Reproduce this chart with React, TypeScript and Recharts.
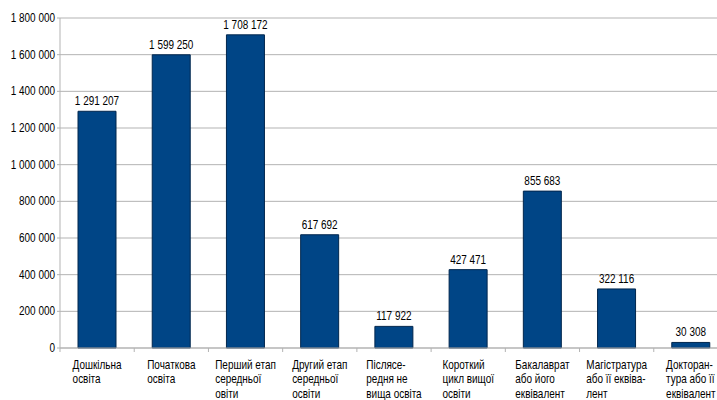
import React from 'react';
import { BarChart, Bar, XAxis, YAxis, CartesianGrid, LabelList } from 'recharts';

const categories: string[][] = [
    ['Дошкільна', 'освіта'],
    ['Початкова', 'освіта'],
    ['Перший етап', 'середньої', 'овіти'],
    ['Другий етап', 'середньої', 'освіти'],
    ['Післясе-', 'редня не', 'вища освіта'],
    ['Короткий', 'цикл вищої', 'освіти'],
    ['Бакалаврат', 'або його', 'еквівалент'],
    ['Магістратура', 'або її еквіва-', 'лент'],
    ['Докторан-', 'тура або її', 'еквівалент'],
];

const students = [1291207, 1599250, 1708172, 617692, 117922, 427471, 855683, 322116, 30308];

const yTicks = [0, 200000, 400000, 600000, 800000, 1000000, 1200000, 1400000, 1600000, 1800000];

const data = categories.map((lines, i) => ({ name: lines.join(' '), lines, value: students[i] }));

// no narrow font installed, so Liberation Sans is squeezed horizontally
const FONT = "'Liberation Sans', Arial, sans-serif";
const FONT_SIZE = 12;
const SQUEEZE = 0.83;
const CHART_W = 740;
const PLOT_LEFT = 60;
const PLOT_RIGHT = 12;
const CAT_W = (CHART_W - PLOT_LEFT - PLOT_RIGHT) / categories.length;
const GRID = '#b3b3b3';

// non-breaking spaces so recharts does not wrap the numbers
const fmt = (n: number) => String(n).replace(/\B(?=(\d{3})+(?!\d))/g, '\u00A0');

let ctx: CanvasRenderingContext2D | null = null;
function measure(text: string) {
    if (!ctx) {
        ctx = document.createElement('canvas').getContext('2d');
        if (ctx) ctx.font = `${FONT_SIZE}px ${FONT}`;
    }
    return (ctx ? ctx.measureText(text).width : text.length * 6) * SQUEEZE;
}

function NarrowText({ x, y, anchor, children }: { x: number; y: number; anchor: 'start' | 'middle' | 'end'; children: React.ReactNode }) {
    return (
        <text
            transform={`translate(${x},${y}) scale(${SQUEEZE},1)`}
            textAnchor={anchor}
            fill="#000"
            fontSize={FONT_SIZE}
            fontFamily={FONT}
        >
            {children}
        </text>
    );
}

function CategoryTick(props: any) {
    const { x, y, index } = props;
    const lines = categories[index] || [];
    const blockW = Math.max(...lines.map(measure));
    const left = x - CAT_W / 2;
    return (
        <g>
            <line x1={left} y1={y} x2={left} y2={y + 4} stroke={GRID} />
            {index === categories.length - 1 && (
                <line x1={left + CAT_W} y1={y} x2={left + CAT_W} y2={y + 4} stroke={GRID} />
            )}
            <NarrowText x={x - blockW / 2} y={y + 21} anchor="start">
                {lines.map((l, i) => (
                    <tspan key={i} x={0} dy={i === 0 ? 0 : 14.5}>{l}</tspan>
                ))}
            </NarrowText>
        </g>
    );
}

function ValueTick(props: any) {
    const { x, y, payload } = props;
    return (
        <NarrowText x={x} y={y + 4} anchor="end">
            {fmt(payload.value)}
        </NarrowText>
    );
}

function ValueLabel(props: any) {
    const { x, y, width, value } = props;
    return (
        <NarrowText x={x + width / 2} y={y - 6} anchor="middle">
            {fmt(Number(value))}
        </NarrowText>
    );
}

export default function App() {
    return (
        <div style={{ position: 'absolute', left: 0, top: 0, width: 717, height: 400, overflow: 'hidden', background: '#fff' }}>
            <BarChart
                width={CHART_W}
                height={400}
                data={data}
                margin={{ top: 18, right: PLOT_RIGHT, bottom: 0, left: 0 }}
                barCategoryGap={0}
            >
                <CartesianGrid vertical={false} stroke={GRID} />
                <XAxis
                    dataKey="name"
                    interval={0}
                    height={52}
                    tickLine={false}
                    tickSize={0}
                    tickMargin={0}
                    axisLine={{ stroke: GRID }}
                    tick={<CategoryTick />}
                />
                <YAxis
                    width={PLOT_LEFT}
                    domain={[0, 1800000]}
                    ticks={yTicks}
                    interval={0}
                    axisLine={{ stroke: GRID }}
                    tickLine={{ stroke: GRID }}
                    tickSize={3}
                    tickMargin={2}
                    tick={<ValueTick />}
                />
                <Bar dataKey="value" fill="#004586" stroke="#00264d" strokeWidth={1} barSize={38} isAnimationActive={false}>
                    <LabelList dataKey="value" content={<ValueLabel />} />
                </Bar>
            </BarChart>
        </div>
    );
}
